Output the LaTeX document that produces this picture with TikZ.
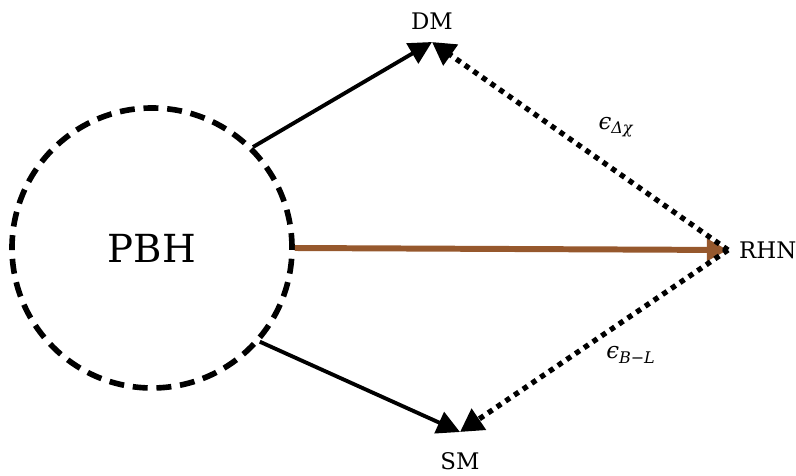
\documentclass[tikz,border=0pt]{standalone}
\usepackage{fontspec}
\setmainfont{DejaVu Serif}
\usetikzlibrary{arrows.meta,positioning}
\definecolor{rhnbrown}{RGB}{150,88,45}
\begin{document}
\begin{tikzpicture}[
    blob/.style={circle, draw, dashed, line width=3.2pt, dash pattern=on 8.5pt off 5pt, minimum size=5.6cm, font=\fontsize{22}{26}\selectfont},
    flow/.style={-{Triangle[length=13pt,width=13pt]}, line width=2.2pt},
    coupling/.style={-{Triangle[length=13pt,width=14pt]}, line width=3pt, dash pattern=on 3pt off 3pt},
    heavy/.style={-{Triangle[length=12pt,width=12pt]}, line width=3.4pt, rhnbrown},
    particle/.style={font=\fontsize{13}{15}\selectfont},
    coup label/.style={font=\fontsize{13}{15}\selectfont\itshape}]
  \useasboundingbox (0,0) rectangle (15.92,9.52);

  \node[blob] (PBH) at (3.04,4.56) {PBH};
  \coordinate (dm) at (8.64,8.68);
  \coordinate (sm) at (9.20,0.88);
  \coordinate (rhn) at (14.56,4.52);
  \node[particle] (DM) [above=0.12cm of dm] {DM};
  \node[particle] (SM) [below=0.28cm of sm] {SM};
  \node[particle, anchor=west] (RHN) at (14.66,4.52) {RHN};

  \draw[flow] (PBH.45) -- (dm);
  \draw[flow] (PBH.-41) -- (sm);
  \draw[heavy] (PBH.east) -- (rhn);
  \draw[coupling] (rhn) -- (dm);
  \draw[coupling] (rhn) -- (sm);

  \node[coup label] (epsdx) at (12.32,6.98) {ϵ\textsubscript{Δχ}};
  \node[coup label] (epsbl) at (12.62,2.42) {ϵ\textsubscript{B−L}};
\end{tikzpicture}
\end{document}
